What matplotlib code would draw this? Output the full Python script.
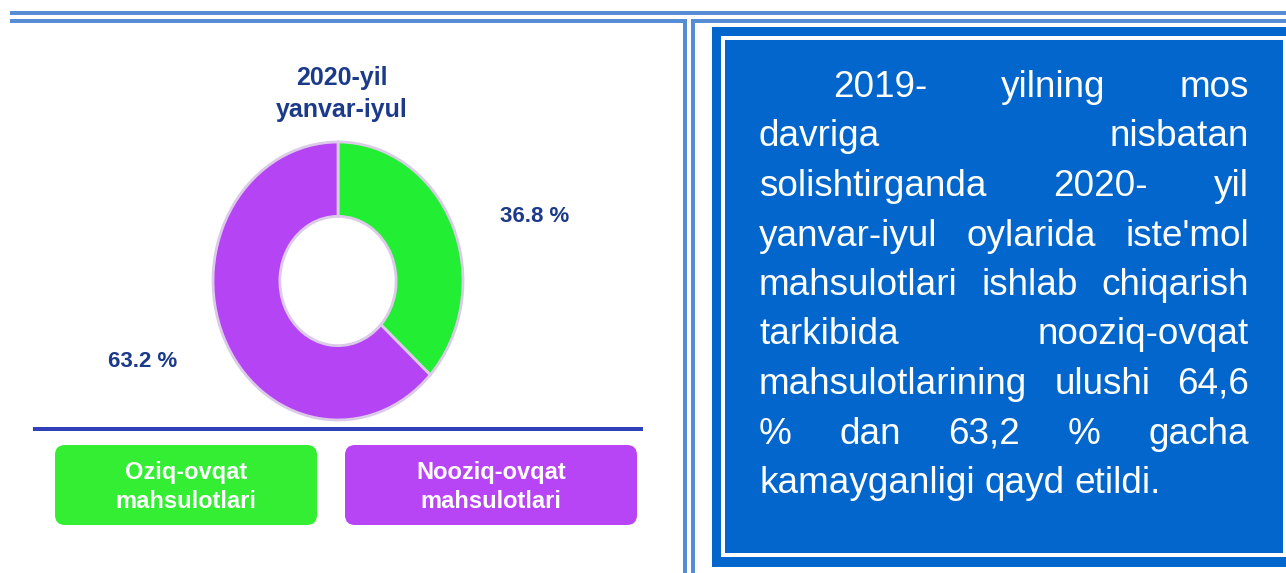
import matplotlib
matplotlib.use('Agg')
import matplotlib.pyplot as plt
from matplotlib.patches import Rectangle, FancyBboxPatch

# data
shares = [36.8, 63.2]
share_labels = ['36.8 %', '63.2 %']
categories = ['Oziq-ovqat\nmahsulotlari', 'Nooziq-ovqat\nmahsulotlari']
pie_colors = ['#22ee33', '#b444f4']
btn_colors = ['#33ee33', '#b845f5']
title = '2020-yil\nyanvar-iyul'
note_lines = [
    "2019- yilning mos",
    "davriga nisbatan",
    "solishtirganda 2020- yil",
    "yanvar-iyul oylarida iste'mol",
    "mahsulotlari ishlab chiqarish",
    "tarkibida nooziq-ovqat",
    "mahsulotlarining ulushi 64,6",
    "% dan 63,2 % gacha",
    "kamayganligi qayd etildi.",
]

W, H = 1286, 573
plt.rcParams['font.family'] = ['Liberation Sans', 'DejaVu Sans']
navy = '#1c3a8a'
frame_blue = '#558ed5'
box_blue = '#0366cc'

fig = plt.figure(figsize=(W / 100, H / 100), dpi=100)
fig.patch.set_facecolor('white')

# overlay axes in pixel units (y downwards)
ov = fig.add_axes([0, 0, 1, 1])
ov.set_xlim(0, W)
ov.set_ylim(H, 0)
ov.axis('off')

# frame lines
ov.add_patch(Rectangle((10, 11), W, 4, color=frame_blue, lw=0))
ov.add_patch(Rectangle((10, 19), 677, 4, color=frame_blue, lw=0))
ov.add_patch(Rectangle((683, 19), 4, H, color=frame_blue, lw=0))
ov.add_patch(Rectangle((691, 19), 4, H, color=frame_blue, lw=0))
ov.add_patch(Rectangle((691, 19), W, 4, color=frame_blue, lw=0))

# text box on the right
ov.add_patch(Rectangle((712, 27), 700, 540, color=box_blue, lw=0))
ov.add_patch(Rectangle((721, 36), 566, 521, color='white', lw=0))
ov.add_patch(Rectangle((725, 40), 558, 513, color=box_blue, lw=0))

r = fig.canvas.get_renderer()
left, right = 759, 1249
for i, line in enumerate(note_lines):
    words = line.split()
    y = 97 + i * 49.5
    x0 = left + (74 if i == 0 else 0)
    objs = [ov.text(0, y, w, color='white', fontsize=26.6, ha='left', va='baseline')
            for w in words]
    widths = [o.get_window_extent(r).width for o in objs]
    if i == len(note_lines) - 1:
        gap = 10
    else:
        gap = (right - x0 - sum(widths)) / (len(words) - 1)
    x = x0
    for o, w in zip(objs, widths):
        o.set_x(x)
        x += w + gap

# title
for j, t in enumerate(title.split('\n')):
    ov.text(342, 85 + j * 32, t, color=navy, fontsize=18, fontweight='bold',
            ha='center', va='baseline')

# donut
cx, cy, rx, ry = 338, 281, 125, 139
pa = fig.add_axes([(cx - 1.05 * rx) / W, (H - cy - 1.05 * ry) / H,
                   2.1 * rx / W, 2.1 * ry / H])
pa.pie(shares, colors=pie_colors, startangle=90, counterclock=False,
       wedgeprops=dict(width=0.535, edgecolor='#dccbe8', linewidth=2))
pa.set_aspect('auto')
pa.set_xlim(-1.05, 1.05)
pa.set_ylim(-1.05, 1.05)

ov.text(535, 222, share_labels[0], color=navy, fontsize=16, fontweight='bold',
        ha='center', va='baseline')
ov.text(143, 367, share_labels[1], color=navy, fontsize=16, fontweight='bold',
        ha='center', va='baseline')

# separator line
ov.add_patch(Rectangle((33, 427), 610, 4, color='#3040b8', lw=0))

# legend buttons
btn_x = [(55, 317), (345, 637)]
for (x1, x2), c, lab in zip(btn_x, btn_colors, categories):
    ov.add_patch(FancyBboxPatch((x1 + 10, 455), x2 - x1 - 20, 60,
                                boxstyle='round,pad=10', color=c, lw=0))
    for j, t in enumerate(lab.split('\n')):
        ov.text((x1 + x2) / 2, 479 + j * 29, t, color='white', fontsize=17,
                fontweight='bold', ha='center', va='baseline')

fig.savefig('out.png', dpi=100)
